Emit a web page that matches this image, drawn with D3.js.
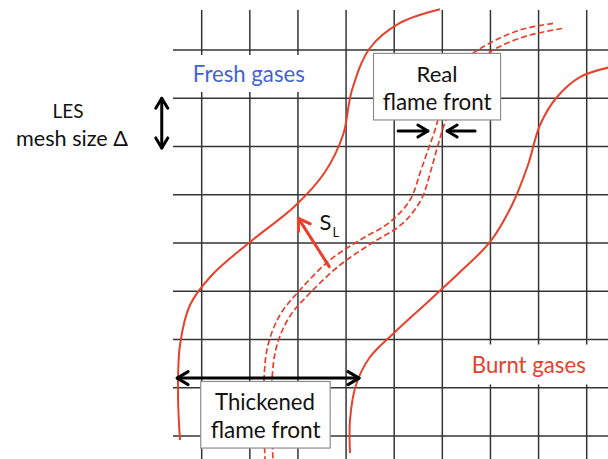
<!DOCTYPE html>
<html><head><meta charset="utf-8">
<script src="https://cdn.jsdelivr.net/npm/d3@7"></script>
<style>html,body{margin:0;padding:0;background:#fff;} svg{display:block;}</style>
</head><body>
<svg id="c" width="608" height="459"></svg>
<script>
// ---- data (grid units: one unit = one LES mesh cell) ----
const gridCols = [0,1,2,3,4,5,6,7,8];
const gridRows = [0,1,2,3,4,5,6,7,8];

// left edge of the thickened flame front (solid)
const thickLeftX = [4.952,4.121,3.497,3.123,2.936,2.562,1.939,1.004,0.214,-0.243,-0.451,-0.492,-0.451];
const thickLeftY = [-0.844,-0.560,-0.041,0.829,1.762,2.528,3.233,3.979,4.663,5.285,6.114,7.150,8.083];
// right edge of the thickened flame front (solid)
const thickRightX = [8.588,7.861,7.383,7.030,6.780,6.448,5.991,5.367,4.744,4.017,3.497,3.206,3.082,3.082];
const thickRightY = [0.332,0.560,0.974,1.554,2.383,3.212,3.979,4.601,5.181,5.845,6.363,6.943,7.668,8.352];
// real (thin) flame front, two dashed edges
const realAX = [7.300,6.614,6.032,5.575,5.201,4.993,4.848,4.702,4.557,4.328,3.913,3.289,2.666,2.043,1.627,1.378,1.295,1.315];
const realAY = [-0.553,-0.415,-0.166,0.124,0.622,1.140,1.658,2.073,2.487,3.109,3.565,3.938,4.352,4.974,5.492,6.114,6.839,8.497];
const realBX = [7.487,6.822,6.261,5.908,5.534,5.284,5.076,4.910,4.765,4.557,4.162,3.539,2.874,2.271,1.835,1.565,1.461,1.482];
const realBY = [-0.446,-0.311,-0.104,0.104,0.580,1.036,1.451,1.969,2.487,3.109,3.606,4.000,4.456,5.016,5.513,6.114,6.839,8.539];

const textFresh = "Fresh gases";
const textBurnt = "Burnt gases";
const textReal = ["Real", "flame front"];
const textThick = ["Thickened", "flame front"];
const textLES = ["LES", "mesh size \u0394"];
const textSL = ["S", "L"];

// ---- drawing ----
const svg = d3.select("#c");
const x = d3.scaleLinear().domain([0, 8]).range([201.7, 586.7]);
const y = d3.scaleLinear().domain([0, 8]).range([50, 436]);

const RED = "#e8402a", BLUE = "#3f63d8", GRID = "#353535";
const FONT = "Lato, 'Open Sans', sans-serif";

// grid
svg.append("g").selectAll("line").data(gridCols).join("line")
  .attr("x1", d => x(d)).attr("x2", d => x(d))
  .attr("y1", 10).attr("y2", 459)
  .attr("stroke", GRID).attr("stroke-width", 1.5);
svg.append("g").selectAll("line").data(gridRows).join("line")
  .attr("y1", d => y(d)).attr("y2", d => y(d))
  .attr("x1", 173).attr("x2", 608)
  .attr("stroke", GRID).attr("stroke-width", 1.5);

// white backgrounds behind region labels
svg.append("rect").attr("x", 180).attr("y", y(0) + 5).attr("width", 135).attr("height", 37).attr("fill", "#fff");
svg.append("rect").attr("x", 462).attr("y", y(6) + 5).attr("width", 146).attr("height", 40).attr("fill", "#fff");

const line = d3.line().x(d => x(d[0])).y(d => y(d[1])).curve(d3.curveCatmullRom.alpha(0.5));
const zip = (a, b) => a.map((v, i) => [v, b[i]]);

svg.append("path").attr("d", line(zip(thickLeftX, thickLeftY)))
  .attr("fill", "none").attr("stroke", RED).attr("stroke-width", 2);
svg.append("path").attr("d", line(zip(thickRightX, thickRightY)))
  .attr("fill", "none").attr("stroke", RED).attr("stroke-width", 2);
[zip(realAX, realAY), zip(realBX, realBY)].forEach(pts => {
  svg.append("path").attr("d", line(pts))
    .attr("fill", "none").attr("stroke", RED).attr("stroke-width", 1.7)
    .attr("stroke-dasharray", "6,3");
});

// boxes
function box(x0, y0, x1, y1) {
  svg.append("rect").attr("x", x(x0)).attr("y", y(y0))
    .attr("width", x(x1) - x(x0)).attr("height", y(y1) - y(y0))
    .attr("fill", "#fff").attr("stroke", "#8e8e8e").attr("stroke-width", 1.2);
}
box(3.57, 0.07, 6.21, 1.45);
box(-0.02, 6.87, 2.67, 8.25);

// text helper: centred at cx, baseline by, fitted to width w
function label(t, cx, by, w, color) {
  const s = svg.append("text").text(t).attr("x", cx).attr("y", by)
    .attr("text-anchor", "middle").attr("font-family", FONT)
    .attr("font-size", 24).attr("fill", color || "#111");
  const m = s.node().getComputedTextLength();
  s.attr("font-size", 24 * w / m);
  return s;
}
label(textFresh, 248.8, 81.7, 112, BLUE);
label(textBurnt, 528.8, 373.3, 114, RED);
label(textReal[0], 437, 81.7, 41);
label(textReal[1], 437.2, 110, 109);
label(textThick[0], 265, 410, 100);
label(textThick[1], 265.7, 438.3, 110);
label(textLES[0], 68, 118.3, 31);
label(textLES[1], 72, 146, 112);
svg.append("text").attr("x", 319.5).attr("y", 230).attr("font-family", FONT).attr("font-size", 22).attr("fill", "#111").text(textSL[0]);
svg.append("text").attr("x", 332.5).attr("y", 236.5).attr("font-family", FONT).attr("font-size", 13).attr("fill", "#111").text(textSL[1]);

// arrows
function arrow(xa, ya, xb, yb, color, width, heads, hl, hw) {
  const p1 = [x(xa), y(ya)], p2 = [x(xb), y(yb)];
  const g = svg.append("g").attr("stroke", color).attr("stroke-width", width)
    .attr("fill", "none").attr("stroke-linecap", "round").attr("stroke-linejoin", "round");
  g.append("line").attr("x1", p1[0]).attr("y1", p1[1]).attr("x2", p2[0]).attr("y2", p2[1]);
  const head = (tip, from) => {
    const dx = tip[0] - from[0], dy = tip[1] - from[1], L = Math.hypot(dx, dy);
    const ux = dx / L, uy = dy / L, nx = -uy, ny = ux;
    const bx = tip[0] - ux * hl, by = tip[1] - uy * hl;
    g.append("path").attr("d", `M${bx + nx * hw},${by + ny * hw}L${tip[0]},${tip[1]}L${bx - nx * hw},${by - ny * hw}`);
  };
  if (heads.includes("end")) head(p2, p1);
  if (heads.includes("start")) head(p1, p2);
}
arrow(-0.51, 6.80, 3.27, 6.80, "#000", 3, ["start", "end"], 11, 6.5);
arrow(4.08, 1.68, 4.70, 1.68, "#000", 3, ["end"], 10, 6);
arrow(5.68, 1.68, 5.10, 1.68, "#000", 3, ["end"], 10, 6);
arrow(-0.83, 1.0, -0.83, 2.03, "#000", 3, ["start", "end"], 10, 6);
arrow(2.65, 4.49, 2.01, 3.49, RED, 3, ["end"], 11, 7);
</script>
</body></html>
